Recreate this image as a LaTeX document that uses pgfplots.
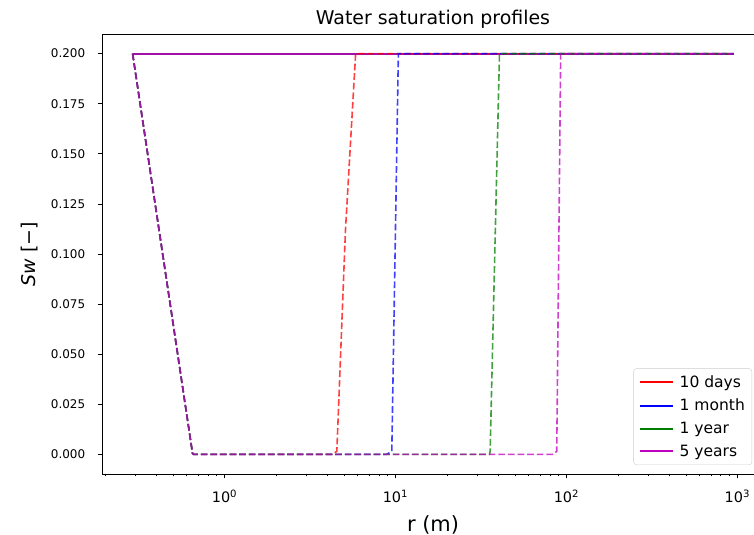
\documentclass[border=0pt]{standalone}
\usepackage{fontspec}
\setmainfont{DejaVu Sans}
\usepackage{pgfplots}
\pgfplotsset{compat=1.18}
\definecolor{mplred}{rgb}{1,0,0}
\definecolor{mplblue}{rgb}{0,0,1}
\definecolor{mplgreen}{rgb}{0,0.5,0}
\definecolor{mplmag}{rgb}{0.75,0,0.75}
\begin{document}
\begin{tikzpicture}
\begin{axis}[
  at={(0,0)}, anchor=south west,
  scale only axis, width=662bp, height=440bp,
  xmode=log, log basis x=10,
  xmin=0.192, xmax=1432,
  ymin=-0.0098, ymax=0.2098,
  axis line style={line width=0.8bp},
  tick align=outside, tick pos=left,
  major tick length=4.3bp, minor tick length=2.4bp,
  every tick/.style={black, line width=0.8bp},
  minor tick style={line width=0.6bp},
  xtick={1,10,100,1000},
  xticklabels={10\textsuperscript{0},10\textsuperscript{1},10\textsuperscript{2},10\textsuperscript{3}},
  minor xtick={0.2,0.3,0.4,0.5,0.6,0.7,0.8,0.9,2,3,4,5,6,7,8,9,20,30,40,50,60,70,80,90,200,300,400,500,600,700,800,900},
  ytick={0,0.025,0.05,0.075,0.1,0.125,0.15,0.175,0.2},
  /pgf/number format/assume math mode=true,
  yticklabel style={/pgf/number format/fixed, /pgf/number format/fixed zerofill, /pgf/number format/precision=3, font=\fontsize{12}{14}\selectfont, xshift=-9bp},
  xticklabel style={font=\fontsize{14.5}{16}\selectfont, yshift=-8bp},
  scaled y ticks=false,
  title={Water saturation profiles},
  title style={font=\fontsize{19}{22}\selectfont, yshift=-4bp},
  xlabel={r (m)},
  ylabel={\textit{Sw} [−]},
  xlabel style={font=\fontsize{21}{24}\selectfont, yshift=-6bp},
  ylabel style={font=\fontsize{19}{22}\selectfont, yshift=6bp},
  legend style={at={(0.982,0.0205)}, anchor=south east, draw=black!20, rounded corners=3bp, fill=white, font=\fontsize{15.6}{18}\selectfont, row sep=6bp, column sep=4bp, inner xsep=5bp, inner ysep=5bp},
  legend cell align=left,
  legend image code/.code={\draw[#1] (0bp,0bp) -- (33bp,0bp);},
]
% solid lines
\addplot[mplred, line width=1.8bp, opacity=0.85, forget plot] coordinates {(0.29,0.2) (950,0.2)};
\addplot[mplblue, line width=1.8bp, opacity=0.85, forget plot] coordinates {(0.29,0.2) (950,0.2)};
\addplot[mplgreen, line width=1.8bp, opacity=0.85, forget plot] coordinates {(0.29,0.2) (950,0.2)};
\addplot[mplmag, line width=1.8bp, opacity=0.85, forget plot] coordinates {(0.29,0.2) (950,0.2)};
\addlegendimage{mplred, line width=2bp}
\addlegendentry{10 days}
\addlegendimage{mplblue, line width=2bp}
\addlegendentry{1 month}
\addlegendimage{mplgreen, line width=2bp}
\addlegendentry{1 year}
\addlegendimage{mplmag, line width=2bp}
\addlegendentry{5 years}
% dashed profiles
\addplot[mplred, line width=1.6bp, opacity=0.75, dash pattern=on 6.7bp off 2.9bp, forget plot] coordinates {(0.29,0.2) (0.65,0.0005) (0.66,0) (4.25,0) (4.54,0.0015) (5.10,0.112) (5.85,0.2) (950,0.2)};
\addplot[mplblue, line width=1.6bp, opacity=0.75, dash pattern=on 6.7bp off 2.9bp, forget plot] coordinates {(0.29,0.2) (0.65,0.0005) (0.66,0) (8.87,0) (9.52,0.0015) (10.4,0.2) (950,0.2)};
\addplot[mplgreen, line width=1.6bp, opacity=0.75, dash pattern=on 6.7bp off 2.9bp, forget plot] coordinates {(0.29,0.2) (0.65,0.0005) (0.66,0) (35.5,0) (35.8,0.0015) (40.6,0.2) (950,0.2)};
\addplot[mplmag, line width=1.6bp, opacity=0.75, dash pattern=on 6.7bp off 2.9bp, forget plot] coordinates {(0.29,0.2) (0.65,0.0005) (0.66,0) (83,0) (87.8,0.0015) (92.6,0.2) (950,0.2)};
\end{axis}
\pgfresetboundingbox
\useasboundingbox (-102bp,-61bp) rectangle (652bp,474bp);
\end{tikzpicture}
\end{document}
